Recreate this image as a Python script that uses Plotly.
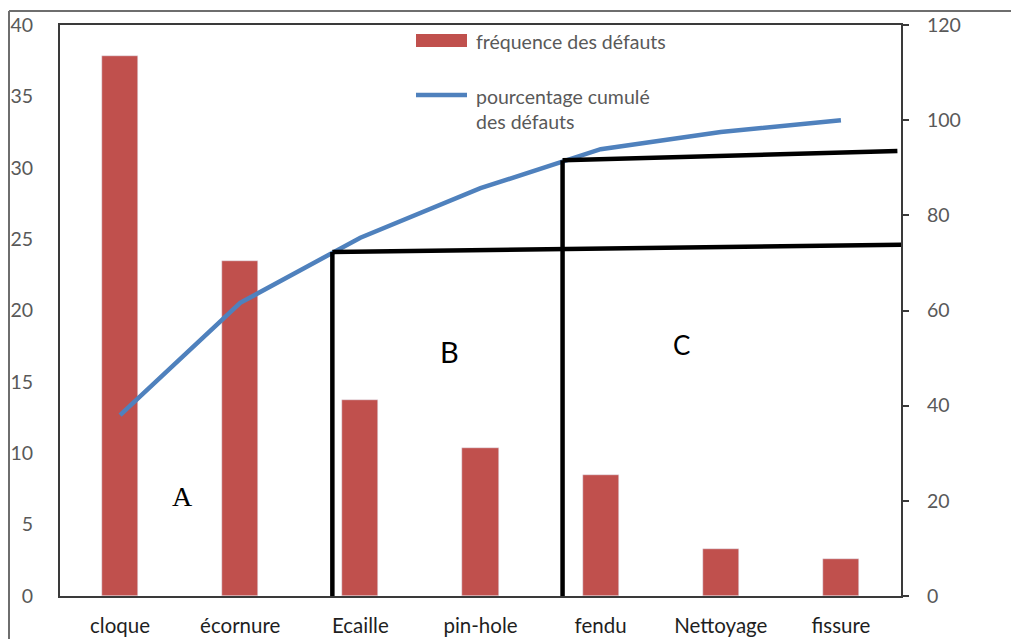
import plotly.graph_objects as go

# Pareto data: defect frequencies and cumulative percentages
categories = ["cloque", "écornure", "Ecaille", "pin-hole", "fendu", "Nettoyage", "fissure"]
frequence = [37.8, 23.5, 13.7, 10.4, 8.5, 3.3, 2.6]
cumul_pct = [38.0, 61.6, 75.3, 85.7, 93.9, 97.5, 100.0]

left_ticks = [0, 5, 10, 15, 20, 25, 30, 35, 40]
right_ticks = [0, 20, 40, 60, 80, 100, 120]

# ABC zone boundaries (x on category index, y on the percentage axis)
zone_ab_x = 1.767
zone_bc_x = 3.683
zone_ab_y = (72.3, 73.8)
zone_bc_y = (91.6, 93.5)

W, H = 1011, 639
ML, MR, MT, MB = 60, 110, 25, 43
PW, PH = W - ML - MR, H - MT - MB


def px(x):
    return (x - ML) / PW


def py(y):
    return (H - MB - y) / PH


FONT = "Lato"
BAR_COLOR = "#C0504D"
LINE_COLOR = "#4F81BD"

fig = go.Figure()
fig.add_trace(go.Bar(
    x=categories, y=frequence, marker_color=BAR_COLOR, width=0.3,
    name="fréquence des défauts", showlegend=False,
))
fig.add_trace(go.Scatter(
    x=categories, y=cumul_pct, yaxis="y2", mode="lines",
    line=dict(color=LINE_COLOR, width=4.5),
    name="pourcentage cumulé des défauts", showlegend=False,
))

black = dict(color="black", width=4.5)
shapes = [
    # zone separators
    dict(type="line", xref="x", yref="y2", x0=zone_ab_x, x1=zone_ab_x, y0=-0.9, y1=zone_ab_y[0], line=black),
    dict(type="line", xref="x", yref="y2", x0=zone_ab_x, x1=6.5, y0=zone_ab_y[0], y1=zone_ab_y[1], line=black),
    dict(type="line", xref="x", yref="y2", x0=zone_bc_x, x1=zone_bc_x, y0=-0.9, y1=zone_bc_y[0], line=black),
    dict(type="line", xref="x", yref="y2", x0=zone_bc_x, x1=6.47, y0=zone_bc_y[0], y1=zone_bc_y[1], line=black),
    # legend keys
    dict(type="rect", xref="paper", yref="paper", x0=px(416), x1=px(467), y0=py(47), y1=py(34),
         fillcolor=BAR_COLOR, line=dict(width=0)),
    dict(type="line", xref="paper", yref="paper", x0=px(416), x1=px(467), y0=py(95), y1=py(95),
         line=dict(color=LINE_COLOR, width=4.5)),
    # outer frame
    dict(type="line", xref="paper", yref="paper", x0=px(9), x1=px(9), y0=py(11), y1=py(645),
         line=dict(color="#6e6e6e", width=2)),
    dict(type="line", xref="paper", yref="paper", x0=px(9), x1=px(1015), y0=py(11), y1=py(11),
         line=dict(color="#6e6e6e", width=2)),
]

legend_font = dict(family=FONT, size=19.5, color="#595959")
annotations = [
    dict(xref="paper", yref="paper", x=px(474), y=py(42), text="fréquence des défauts",
         showarrow=False, xanchor="left", yanchor="middle", font=legend_font),
    dict(xref="paper", yref="paper", x=px(474), y=py(109), text="pourcentage cumulé<br>des défauts",
         showarrow=False, xanchor="left", yanchor="middle", align="left", font=legend_font),
    dict(xref="x", yref="y", x=0.52, y=6.95, text="A", showarrow=False,
         font=dict(family="Liberation Serif", size=28, color="black")),
    dict(xref="x", yref="y", x=2.74, y=17.1, text="B", showarrow=False,
         font=dict(family=FONT, size=29, color="black")),
    dict(xref="x", yref="y", x=4.67, y=17.6, text="C", showarrow=False,
         font=dict(family=FONT, size=26, color="black")),
]

axis_line = dict(showline=True, linecolor="#3a3a3a", linewidth=2, showgrid=False,
                 zeroline=False, automargin=False)

fig.update_layout(
    width=W, height=H,
    margin=dict(l=ML, r=MR, t=MT, b=MB, pad=0, autoexpand=False),
    paper_bgcolor="white", plot_bgcolor="white",
    font=dict(family=FONT, size=19, color="#595959"),
    xaxis=dict(**axis_line, mirror=True, type="category", range=[-0.5, 6.5],
               ticks="", ticklabelstandoff=10,
               tickfont=dict(family=FONT, size=20.5, color="#1f1f1f")),
    yaxis=dict(**axis_line, range=[0, 40], tickvals=left_ticks, ticks="",
               ticklabelstandoff=21, tickfont=dict(family=FONT, size=19.5, color="#595959")),
    yaxis2=dict(**axis_line, overlaying="y", side="right", range=[0, 120], tickvals=right_ticks,
                ticks="outside", ticklen=6, tickwidth=2, tickcolor="#3a3a3a",
                ticklabelstandoff=14, tickfont=dict(family=FONT, size=19.5, color="#595959")),
    shapes=shapes,
    annotations=annotations,
    showlegend=False,
    bargap=0,
)

fig.write_html("out.html")
